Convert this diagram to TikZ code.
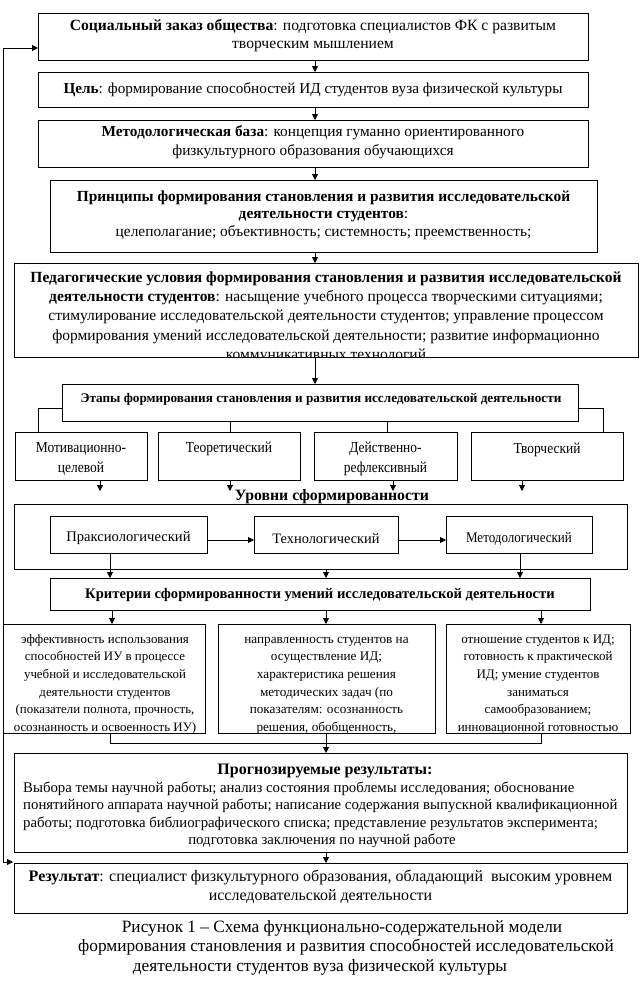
\documentclass[tikz,border=0pt]{standalone}
\usepackage{fontspec}
\setmainfont{Liberation Serif}
\newfontfamily\condfont[FakeStretch=0.88]{Liberation Serif}
\usetikzlibrary{arrows.meta}
\newcommand{\fs}[2]{\fontsize{#1}{#2}\selectfont}
\newcommand{\sr}{\rule{0pt}{12pt}}
\begin{document}
\begin{tikzpicture}[x=1pt,y=-1pt,
  box/.style={draw, line width=0.9pt, inner sep=0pt, outer sep=0pt, anchor=north west},
  txt/.style={align=center, inner sep=0pt},
  arr/.style={-{Triangle[length=6pt,width=6pt]}, line width=0.8pt},
  ln/.style={line width=0.8pt}]
\useasboundingbox (0,0) rectangle (642,986);
\coordinate (axis) at (315,0);

% top chain
\node[box, minimum width=550, minimum height=47] (b1) at (38,13) {};
\node[txt, font=\fs{15.6}{17.5}] (b1t) at ([yshift=1]b1.center) {\textbf{Социальный заказ общества}: подготовка специалистов ФК с развитым\\ творческим мышлением};
\node[box, minimum width=550, minimum height=35] (b2) at (38,72) {};
\node[txt, font=\fs{15.2}{17.5}] (b2t) at (b2.center) {\textbf{Цель}: формирование способностей ИД студентов вуза физической культуры};
\node[box, minimum width=550, minimum height=47] (b3) at (38,120) {};
\node[txt, font=\fs{15.3}{19}] (b3t) at ([yshift=1]b3.center) {\textbf{Методологическая база}: концепция гуманно ориентированного\\ физкультурного образования обучающихся};
\node[box, minimum width=547, minimum height=72] (b4) at (50,180) {};
\node[txt, font=\fs{15.4}{17.7}] (b4t) at ([yshift=1]b4.center) {\textbf{Принципы формирования становления и развития исследовательской}\\ \textbf{деятельности студентов}:\\ целеполагание; объективность; системность; преемственность;};
\node[box, minimum width=624, minimum height=94] (b5) at (14,263) {};
\begin{scope}
\clip (14,263) rectangle (638,357);
\node[txt, anchor=north, font=\fs{15.5}{19.3}] (b5t) at (326,270) {\sr\textbf{Педагогические условия формирования становления и развития исследовательской}\\ \textbf{деятельности студентов}: насыщение учебного процесса творческими ситуациями;\\ стимулирование исследовательской деятельности студентов; управление процессом\\ формирования умений исследовательской деятельности; развитие информационно\\ коммуникативных технологий};
\end{scope}
\draw[arr] (b1.south -| axis) -- (b2.north -| axis);
\draw[arr] (b2.south -| axis) -- (b3.north -| axis);
\draw[arr] (b3.south -| axis) -- (b4.north -| axis);
\draw[arr] (b4.south -| axis) -- (b5.north -| axis);

% stages
\node[box, minimum width=516, minimum height=37] (et) at (62,384) {};
\node[inner sep=0pt, font=\bfseries\fs{13.2}{15}] (ett) at (321,399) {Этапы формирования становления и развития исследовательской деятельности};
\draw[arr] (b5.south -| axis) -- (et.north -| axis);

\node[box, minimum width=132, minimum height=48] (s1) at (15,432) {};
\node[box, minimum width=142, minimum height=48] (s2) at (158,432) {};
\node[box, minimum width=143, minimum height=48] (s3) at (314,432) {};
\node[box, minimum width=152, minimum height=48] (s4) at (471,432) {};
\node[txt, anchor=north, font=\condfont\fs{15.3}{20}] (s1t) at ([yshift=-8]s1.north) {\sr Мотивационно-\\целевой};
\node[txt, anchor=north, font=\condfont\fs{15.3}{20}] (s2t) at ([yshift=-8]s2.north) {\sr Теоретический};
\node[txt, anchor=north, font=\condfont\fs{15.3}{20}] (s3t) at ([yshift=-8]s3.north) {\sr Действенно-\\рефлексивный};
\node[txt, anchor=north, font=\condfont\fs{15.3}{20}] (s4t) at ([yshift=-9]s4.north) {\sr Творческий};

\coordinate (c1) at (38,408);
\coordinate (c4) at (603,408);
\coordinate (c2) at (230,0);
\coordinate (c3) at (387,0);
\draw[ln] (et.west |- c1) -- (c1) -- (c1 |- s1.north);
\draw[ln] (et.east |- c4) -- (c4) -- (c4 |- s4.north);
\draw[ln] (et.south -| c2) -- (s2.north -| c2);
\draw[ln] (et.south -| c3) -- (s3.north -| c3);

\coordinate (d1) at (100,491);
\coordinate (d2) at (230,491);
\coordinate (d3) at (393,491);
\coordinate (d4) at (522,491);
\draw[arr] (s1.south -| d1) -- (d1);
\draw[arr] (s2.south -| d2) -- (d2);
\draw[arr] (s3.south -| d3) -- (d3);
\draw[arr] (s4.south -| d4) -- (d4);

% levels
\node[inner sep=0pt, font=\bfseries\fs{15.8}{17}] (lvt) at (332,497) {Уровни сформированности};
\node[box, minimum width=613, minimum height=65] (lv) at (14,504) {};
\node[box, minimum width=157, minimum height=37] (l1) at (50,516) {};
\node[box, minimum width=144, minimum height=37] (l2) at (254,516) {};
\node[box, minimum width=146, minimum height=37] (l3) at (446,516) {};
\node[txt, font=\fs{14.6}{17}] (l1t) at ([yshift=-4]l1.center) {Праксиологический};
\node[txt, font=\fs{14.4}{17}] (l2t) at ([yshift=-4]l2.center) {Технологический};
\node[txt, font=\condfont\fs{14.8}{17}] (l3t) at ([yshift=-4]l3.center) {Методологический};
\coordinate (lh) at (0,540);
\draw[arr] (l1.east |- lh) -- (l2.west |- lh);
\draw[arr] (l2.east |- lh) -- (l3.west |- lh);

% criteria
\node[box, minimum width=540, minimum height=32] (cr) at (50,578) {};
\node[inner sep=0pt, font=\bfseries\fs{14.6}{16}] (crt) at ([yshift=-1]cr.center) {Критерии сформированности умений исследовательской деятельности};
\coordinate (e1) at (110,0);
\coordinate (e2) at (326,0);
\coordinate (e3) at (520,0);
\draw[arr] (l1.south -| e1) -- (cr.north -| e1);
\draw[arr] (lv.south -| e2) -- (cr.north -| e2);
\draw[arr] (l3.south -| e3) -- (cr.north -| e3);

\node[box, minimum width=202, minimum height=109] (ka) at (3,624) {};
\node[box, minimum width=217, minimum height=109] (kb) at (218,624) {};
\node[box, minimum width=184, minimum height=109] (kc) at (446,624) {};
\coordinate (f1) at (112,0);
\coordinate (f2) at (326,0);
\coordinate (f3) at (541,0);
\draw[arr] (cr.south -| f1) -- (ka.north -| f1);
\draw[arr] (cr.south -| f2) -- (kb.north -| f2);
\draw[arr] (cr.south -| f3) -- (kc.north -| f3);

\node[txt, anchor=north, font=\fs{12.9}{17.6}] (kat) at ([xshift=1,yshift=-7]ka.north) {\sr эффективность использования\\ способностей ИУ в процессе\\ учебной и исследовательской\\ деятельности студентов\\ (показатели полнота, прочность,\\ осознанность и освоенность ИУ)};
\node[txt, anchor=north, font=\fs{13.2}{17.6}] (kbt) at ([yshift=-7]kb.north) {\sr направленность студентов на\\ осуществление ИД;\\ характеристика решения\\ методических задач (по\\ показателям: осознанность\\ решения, обобщенность,};
\node[txt, anchor=north, font=\fs{13}{17.6}] (kct) at ([yshift=-7]kc.north) {\sr отношение студентов к ИД;\\ готовность к практической\\ ИД; умение студентов\\ заниматься\\ самообразованием;\\ инновационной готовностью};

% prognoz
\node[box, minimum width=613, minimum height=99] (pr) at (14,753) {};
\coordinate (g1) at (110,743);
\coordinate (g3) at (541,743);
\draw[ln] (ka.south -| g1) -- (g1) -- (g3) -- (kc.south -| g3);
\draw[arr] (kb.south -| f2) -- (pr.north -| f2);
\node[inner sep=0pt, font=\bfseries\fs{16}{17}] (prt) at (325,771) {Прогнозируемые результаты:};
\node[txt, align=left, anchor=north west, font=\fs{14.8}{17.7}] (prb) at (23,780) {\sr Выбора темы научной работы; анализ состояния проблемы исследования; обоснование\\ понятийного аппарата научной работы; написание содержания выпускной квалификационной\\ работы; подготовка библиографического списка; представление результатов эксперимента;};
\node[txt, font=\fs{14.8}{17.7}] (prc) at (322,841) {подготовка заключения по научной работе};

% result
\node[box, minimum width=613, minimum height=50] (rs) at (14,863) {};
\draw[arr] (pr.south -| f2) -- (rs.north -| f2);
\node[txt, font=\fs{16}{19}] (rst) at ([yshift=1]rs.center) {\textbf{Результат}: специалист физкультурного образования, обладающий\ \ высоким уровнем\\ исследовательской деятельности};

% feedback
\coordinate (fbB) at (13,862);
\coordinate (fbL) at (3,48);
\coordinate (b1in) at (38,48);
\draw[ln, {Triangle[length=6pt,width=6pt]}-{Triangle[length=6pt,width=6pt]}] (fbB) -| (fbL) -- (b1in);

% caption
\node[inner sep=0pt, font=\fs{17.3}{19}] (cap1) at (342,928) {Рисунок 1 – Схема функционально-содержательной модели};
\node[inner sep=0pt, font=\fs{17.3}{19}] (cap2) at (346,947) {формирования становления и развития способностей исследовательской};
\node[inner sep=0pt, font=\fs{17.3}{19}] (cap3) at (320,967) {деятельности студентов вуза физической культуры};
\end{tikzpicture}
\end{document}
